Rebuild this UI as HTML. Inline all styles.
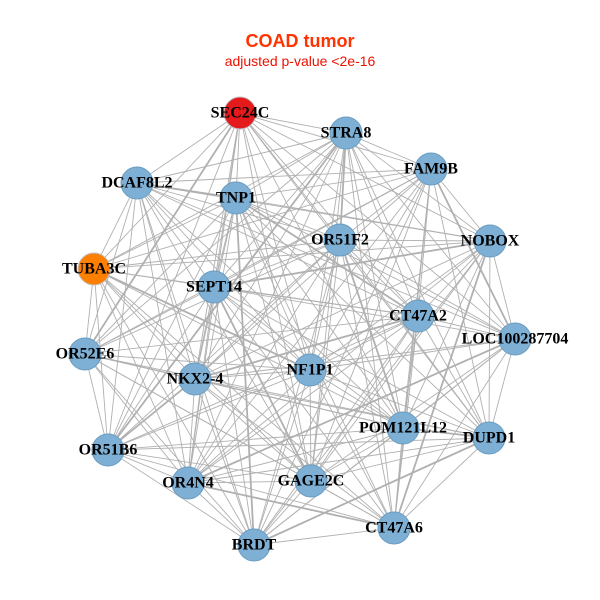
<!DOCTYPE html>
<html><head><meta charset="utf-8"><style>
html,body{margin:0;padding:0;background:#fff;width:600px;height:600px;overflow:hidden}
svg{display:block}
.l{font-family:"Liberation Serif",serif;font-weight:bold;font-size:16px;fill:#000;text-anchor:middle;dominant-baseline:central}
</style></head><body>
<svg id="s" width="600" height="600" xmlns="http://www.w3.org/2000/svg">
<text x="300" y="47" text-anchor="middle" font-family="Liberation Sans,sans-serif" font-weight="bold" font-size="18" fill="#FF3300">COAD tumor</text>
<text x="300" y="66" text-anchor="middle" font-family="Liberation Sans,sans-serif" font-size="14" fill="#EE1100">adjusted p-value &lt;2e-16</text>
<g id="e" stroke="#b0b0b0" stroke-width="0.9"></g>
<g id="n"></g>
<g>
<text class="l" x="240" y="113">SEC24C</text>
<text class="l" x="346" y="133">STRA8</text>
<text class="l" x="431" y="169">FAM9B</text>
<text class="l" x="137" y="183">DCAF8L2</text>
<text class="l" x="236" y="198">TNP1</text>
<text class="l" x="340" y="240">OR51F2</text>
<text class="l" x="490" y="241">NOBOX</text>
<text class="l" x="94" y="269">TUBA3C</text>
<text class="l" x="214" y="287">SEPT14</text>
<text class="l" x="418" y="316">CT47A2</text>
<text class="l" x="515" y="339">LOC100287704</text>
<text class="l" x="85" y="354">OR52E6</text>
<text class="l" x="195" y="379">NKX2-4</text>
<text class="l" x="310" y="370">NF1P1</text>
<text class="l" x="403" y="428">POM121L12</text>
<text class="l" x="489" y="438">DUPD1</text>
<text class="l" x="108" y="450">OR51B6</text>
<text class="l" x="188" y="483">OR4N4</text>
<text class="l" x="311" y="481">GAGE2C</text>
<text class="l" x="394" y="528">CT47A6</text>
<text class="l" x="254" y="545">BRDT</text>
</g>
</svg>
<script>
var N=[[240,113,'#E41A1C'],[346,133],[431,169],[137,183],[236,198],[340,240],[490,241],[94,269,'#FF7F00'],[214,287],[418,316],[515,339],[85,354],[195,379],[310,370],[403,428],[489,438],[108,450],[188,483],[311,481],[394,528],[254,545]];
var ns='http://www.w3.org/2000/svg',e=document.getElementById('e'),n=document.getElementById('n');
for(var i=0;i<N.length;i++)for(var j=i+1;j<N.length;j++){
 var dx=N[i][0]-N[j][0],dy=N[i][1]-N[j][1];
 if(Math.sqrt(dx*dx+dy*dy)>420)continue;
 var l=document.createElementNS(ns,'line');
 l.setAttribute('x1',N[i][0]);l.setAttribute('y1',N[i][1]);l.setAttribute('x2',N[j][0]);l.setAttribute('y2',N[j][1]);
 if((i*7+j*3)%11==0)l.setAttribute('stroke-width','1.8');
 e.appendChild(l);}
for(var i=0;i<N.length;i++){var c=document.createElementNS(ns,'circle');
 c.setAttribute('cx',N[i][0]);c.setAttribute('cy',N[i][1]);c.setAttribute('r',16);
 c.setAttribute('fill',N[i][2]||'#7EB0D5');c.setAttribute('stroke',N[i][2]?'#c0c0c0':'#6a9cc0');n.appendChild(c);}
</script>
</body></html>
